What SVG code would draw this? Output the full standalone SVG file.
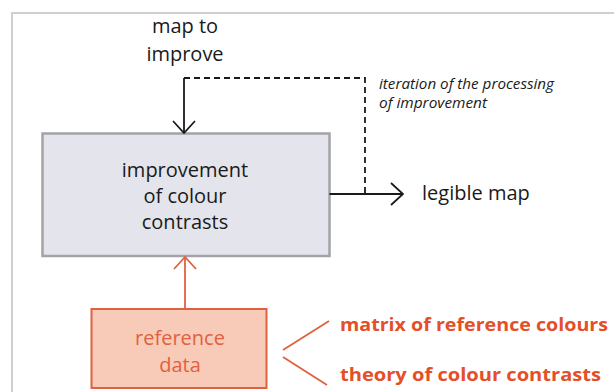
<svg xmlns="http://www.w3.org/2000/svg" width="614" height="392" viewBox="0 0 614 392">
<style>
.t{font-family:"Open Sans","Liberation Sans",sans-serif;font-size:20px;fill:#1a1a1a;text-anchor:middle}
.it{font-family:"Open Sans","Liberation Sans",sans-serif;font-size:14.5px;font-style:italic;fill:#1a1a1a}
.rt{font-family:"Open Sans","Liberation Sans",sans-serif;font-size:20px;fill:#e0613f;text-anchor:middle}
.rb{font-family:"Open Sans","Liberation Sans",sans-serif;font-size:18px;font-weight:bold;fill:#e44f28}
.ln{fill:none;stroke:#1a1a1a;stroke-width:1.8}
.rl{fill:none;stroke:#e0613f;stroke-width:1.8}
</style>
<defs>
<marker id="ak" viewBox="0 0 14 24" refX="13" refY="12" markerWidth="14" markerHeight="24" markerUnits="userSpaceOnUse" orient="auto">
<path d="M1,1 L13,12 L1,23" fill="none" stroke="#1a1a1a" stroke-width="1.8"/>
</marker>
<marker id="ar" viewBox="0 0 14 24" refX="13" refY="12" markerWidth="14" markerHeight="24" markerUnits="userSpaceOnUse" orient="auto">
<path d="M1,1 L13,12 L1,23" fill="none" stroke="#e0613f" stroke-width="1.8"/>
</marker>
</defs>
<rect width="614" height="392" fill="#ffffff"/>
<path d="M12,392 V13 H614" fill="none" stroke="#cfcfcf" stroke-width="2"/>

<g id="input">
<text class="t" x="185" y="33">map to</text>
<text class="t" x="185" y="61">improve</text>
</g>

<g id="improvement">
<rect x="42.5" y="133.5" width="287" height="122.5" fill="#e4e4ec" stroke="#a3a3a8" stroke-width="2.5"/>
<text class="t" x="185" y="177">improvement</text>
<text class="t" x="185" y="203">of colour</text>
<text class="t" x="185" y="229">contrasts</text>
</g>

<g id="output">
<text class="t" x="422" y="200" style="text-anchor:start">legible map</text>
</g>

<g id="iteration">
<text class="it" x="379" y="89" textLength="175" lengthAdjust="spacingAndGlyphs">iteration of the processing</text>
<text class="it" x="379" y="108" textLength="108" lengthAdjust="spacingAndGlyphs">of improvement</text>
</g>

<g id="reference">
<rect x="91.5" y="309" width="175" height="79" fill="#f8cbb8" stroke="#e0613f" stroke-width="2"/>
<text class="rt" x="180" y="345">reference</text>
<text class="rt" x="180" y="372">data</text>
</g>

<g id="matrix">
<text class="rb" x="340" y="331" textLength="268" lengthAdjust="spacingAndGlyphs">matrix of reference colours</text>
</g>
<g id="theory">
<text class="rb" x="340" y="381" textLength="261" lengthAdjust="spacingAndGlyphs">theory of colour contrasts</text>
</g>

<g id="connectors">
<line class="ln" x1="184" y1="78" x2="184" y2="133" marker-end="url(#ak)"/>
<path d="M184,78 H365 V194" fill="none" stroke="#1a1a1a" stroke-width="1.8" stroke-dasharray="6,4"/>
<line class="ln" x1="329.5" y1="194" x2="403" y2="194" marker-end="url(#ak)"/>
<line class="rl" x1="185" y1="309" x2="185" y2="257" marker-end="url(#ar)"/>
<line class="rl" x1="283" y1="350" x2="329" y2="321"/>
<line class="rl" x1="283" y1="357" x2="327" y2="385"/>
</g>
</svg>
